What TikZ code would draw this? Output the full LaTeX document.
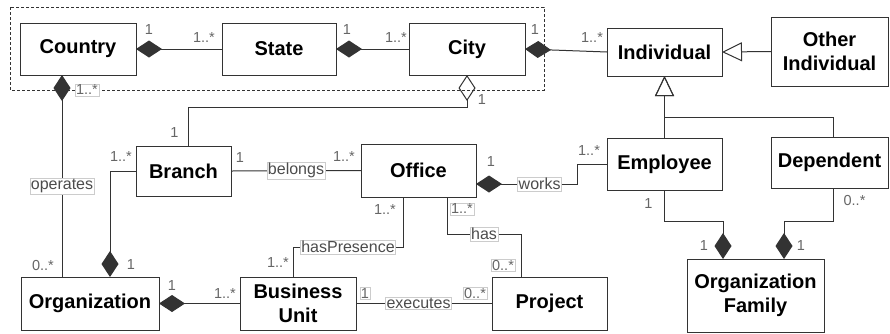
\documentclass[tikz,border=0pt]{standalone}
\usepackage{fontspec}
\setmainfont{Liberation Sans}
\usetikzlibrary{arrows.meta}
\definecolor{linecolor}{gray}{0.2}
\definecolor{multcolor}{gray}{0.4}
\definecolor{labelcolor}{gray}{0.3}
\definecolor{framecolor}{gray}{0.8}

\begin{document}
\begin{tikzpicture}[x=1pt, y=-1pt, line width=1pt, color=linecolor,
    cls/.style={draw=linecolor, fill=white, text=black, inner sep=0pt, outer sep=0pt, align=center, font=\fontsize{20}{24}\selectfont\bfseries},
    mult/.style={font=\fontsize{14.5}{16}\selectfont, text=multcolor, inner sep=1pt},
    multbox/.style={mult, draw=framecolor, fill=white, line width=0.6pt},
    elabel/.style={font=\fontsize{16}{18}\selectfont, text=labelcolor, draw=framecolor, fill=white, inner sep=1pt, line width=0.6pt},
    comp/.style={arrows={Diamond[length=26pt,width=17pt]-}},
    agg/.style={arrows={Diamond[open,length=26pt,width=17pt]-}},
    gen/.style={arrows={-Triangle[open,length=20pt,width=19pt]}}]
    \useasboundingbox (0,0) rectangle (890,333);

    \node[cls, minimum width=116pt, minimum height=52pt] (country) at (78,49) {Country};
    \node[cls, minimum width=114pt, minimum height=52pt] (state) at (279,49) {State};
    \node[cls, minimum width=116pt, minimum height=52pt] (city) at (467,49) {City};
    \node[cls, minimum width=115pt, minimum height=48pt] (individual) at (664.5,52) {Individual};
    \node[cls, minimum width=117pt, minimum height=69pt] (otherind) at (829.5,51.5) {Other\\Individual};
    \node[cls, minimum width=95pt, minimum height=50pt] (branch) at (183.5,171) {Branch};
    \node[cls, minimum width=115pt, minimum height=53pt] (office) at (418.5,170.5) {Office};
    \node[cls, minimum width=115pt, minimum height=52pt] (employee) at (664.5,164) {Employee};
    \node[cls, minimum width=117pt, minimum height=51pt] (dependent) at (829.5,162.5) {Dependent};
    \node[cls, minimum width=138pt, minimum height=53pt] (organization) at (90,303.5) {Organization};
    \node[cls, minimum width=116pt, minimum height=53pt] (bunit) at (298,303.5) {Business\\Unit};
    \node[cls, minimum width=115pt, minimum height=53pt] (project) at (549.5,303.5) {Project};
    \node[cls, minimum width=137pt, minimum height=73pt] (orgfamily) at (755.5,295.5) {Organization\\Family};

    \draw[dash pattern=on 3pt off 2pt, line width=0.8pt] ([shift={(-10pt,16pt)}]country.north west) rectangle ([shift={(19pt,-15pt)}]city.south east);

    \draw[comp] (country.east) -- node[mult, at start, xshift=13pt, yshift=19pt] {1} node[mult, at end, xshift=-18pt, yshift=11pt] {1..*} (state.west);
    \draw[comp] (state.east) -- node[mult, at start, xshift=11pt, yshift=19pt] {1} node[mult, at end, xshift=-13pt, yshift=11pt] {1..*} (city.west);
    \draw[comp] (city.east) -- node[mult, at start, xshift=10pt, yshift=19pt] {1} node[mult, at end, xshift=-15pt, yshift=14pt] {1..*} (individual.west);
    \draw[gen] (otherind.west) -- (individual.east);
    \draw[gen] (employee.north) -- (individual.south);
    \draw[gen] ([xshift=4pt]dependent.north) -- ++(0,-20) -| (individual.south);

    \draw[comp] ([xshift=-16pt]country.south) -- node[multbox, at start, xshift=25pt, yshift=-15pt] {1..*} node[elabel, pos=0.55] {operates} node[mult, at end, xshift=-19pt, yshift=12pt] {0..*} ([xshift=-28pt]organization.north);
    \draw[agg] (city.south) -- node[mult, at start, xshift=15pt, yshift=-25pt] {1} ++(0,32) -| node[mult, at end, xshift=-14pt, yshift=13pt] {1} ([xshift=5pt]branch.north);
    \draw[comp] ([xshift=20pt]organization.north) |- node[mult, at start, xshift=21pt, yshift=12pt] {1} node[mult, at end, xshift=-15pt, yshift=14pt] {1..*} (branch.west);
    \draw (branch.east) -- node[mult, at start, xshift=9pt, yshift=13pt] {1} node[elabel] {belongs} node[mult, at end, xshift=-17pt, yshift=14pt] {1..*} (office.west);
    \draw[comp] ([yshift=-13.5pt]office.east) -- node[mult, at start, xshift=15pt, yshift=22pt] {1} node[elabel, pos=0.63] {works} ++(101,0) |- node[mult, at end, xshift=-18pt, yshift=13pt] {1..*} (employee.west);
    \draw ([xshift=-15.5pt]office.south) -- node[mult, at start, xshift=-18pt, yshift=-13pt] {1..*} ++(0,50) -| node[elabel, pos=0.25] {hasPresence} node[mult, at end, xshift=-15pt, yshift=14pt] {1..*} ([xshift=-5pt]bunit.north);
    \draw ([xshift=28.5pt]office.south) -- node[multbox, at start, xshift=15pt, yshift=-12pt] {1..*} ++(0,37) -| node[elabel, pos=0.25] {has} node[multbox, at end, xshift=-18pt, yshift=12pt] {0..*} ([xshift=-28.5pt]project.north);
    \draw[comp] (organization.east) -- node[mult, at start, xshift=13pt, yshift=18pt] {1} node[mult, at end, xshift=-15pt, yshift=10pt] {1..*} (bunit.west);
    \draw (bunit.east) -- node[multbox, at start, xshift=9pt, yshift=10pt] {1} node[elabel, pos=0.46] {executes} node[multbox, at end, xshift=-17pt, yshift=10pt] {0..*} (project.west);
    \draw[comp] ([xshift=-32.5pt]orgfamily.north) -- node[mult, at start, xshift=-19pt, yshift=13pt] {1} ++(0,-38) -| node[mult, at end, xshift=-16pt, yshift=-14pt] {1} (employee.south);
    \draw[comp] ([xshift=28.5pt]orgfamily.north) -- node[mult, at start, xshift=17pt, yshift=13pt] {1} ++(0,-38) -| node[mult, at end, xshift=21pt, yshift=-13pt] {0..*} ([xshift=4pt]dependent.south);
\end{tikzpicture}
\end{document}
